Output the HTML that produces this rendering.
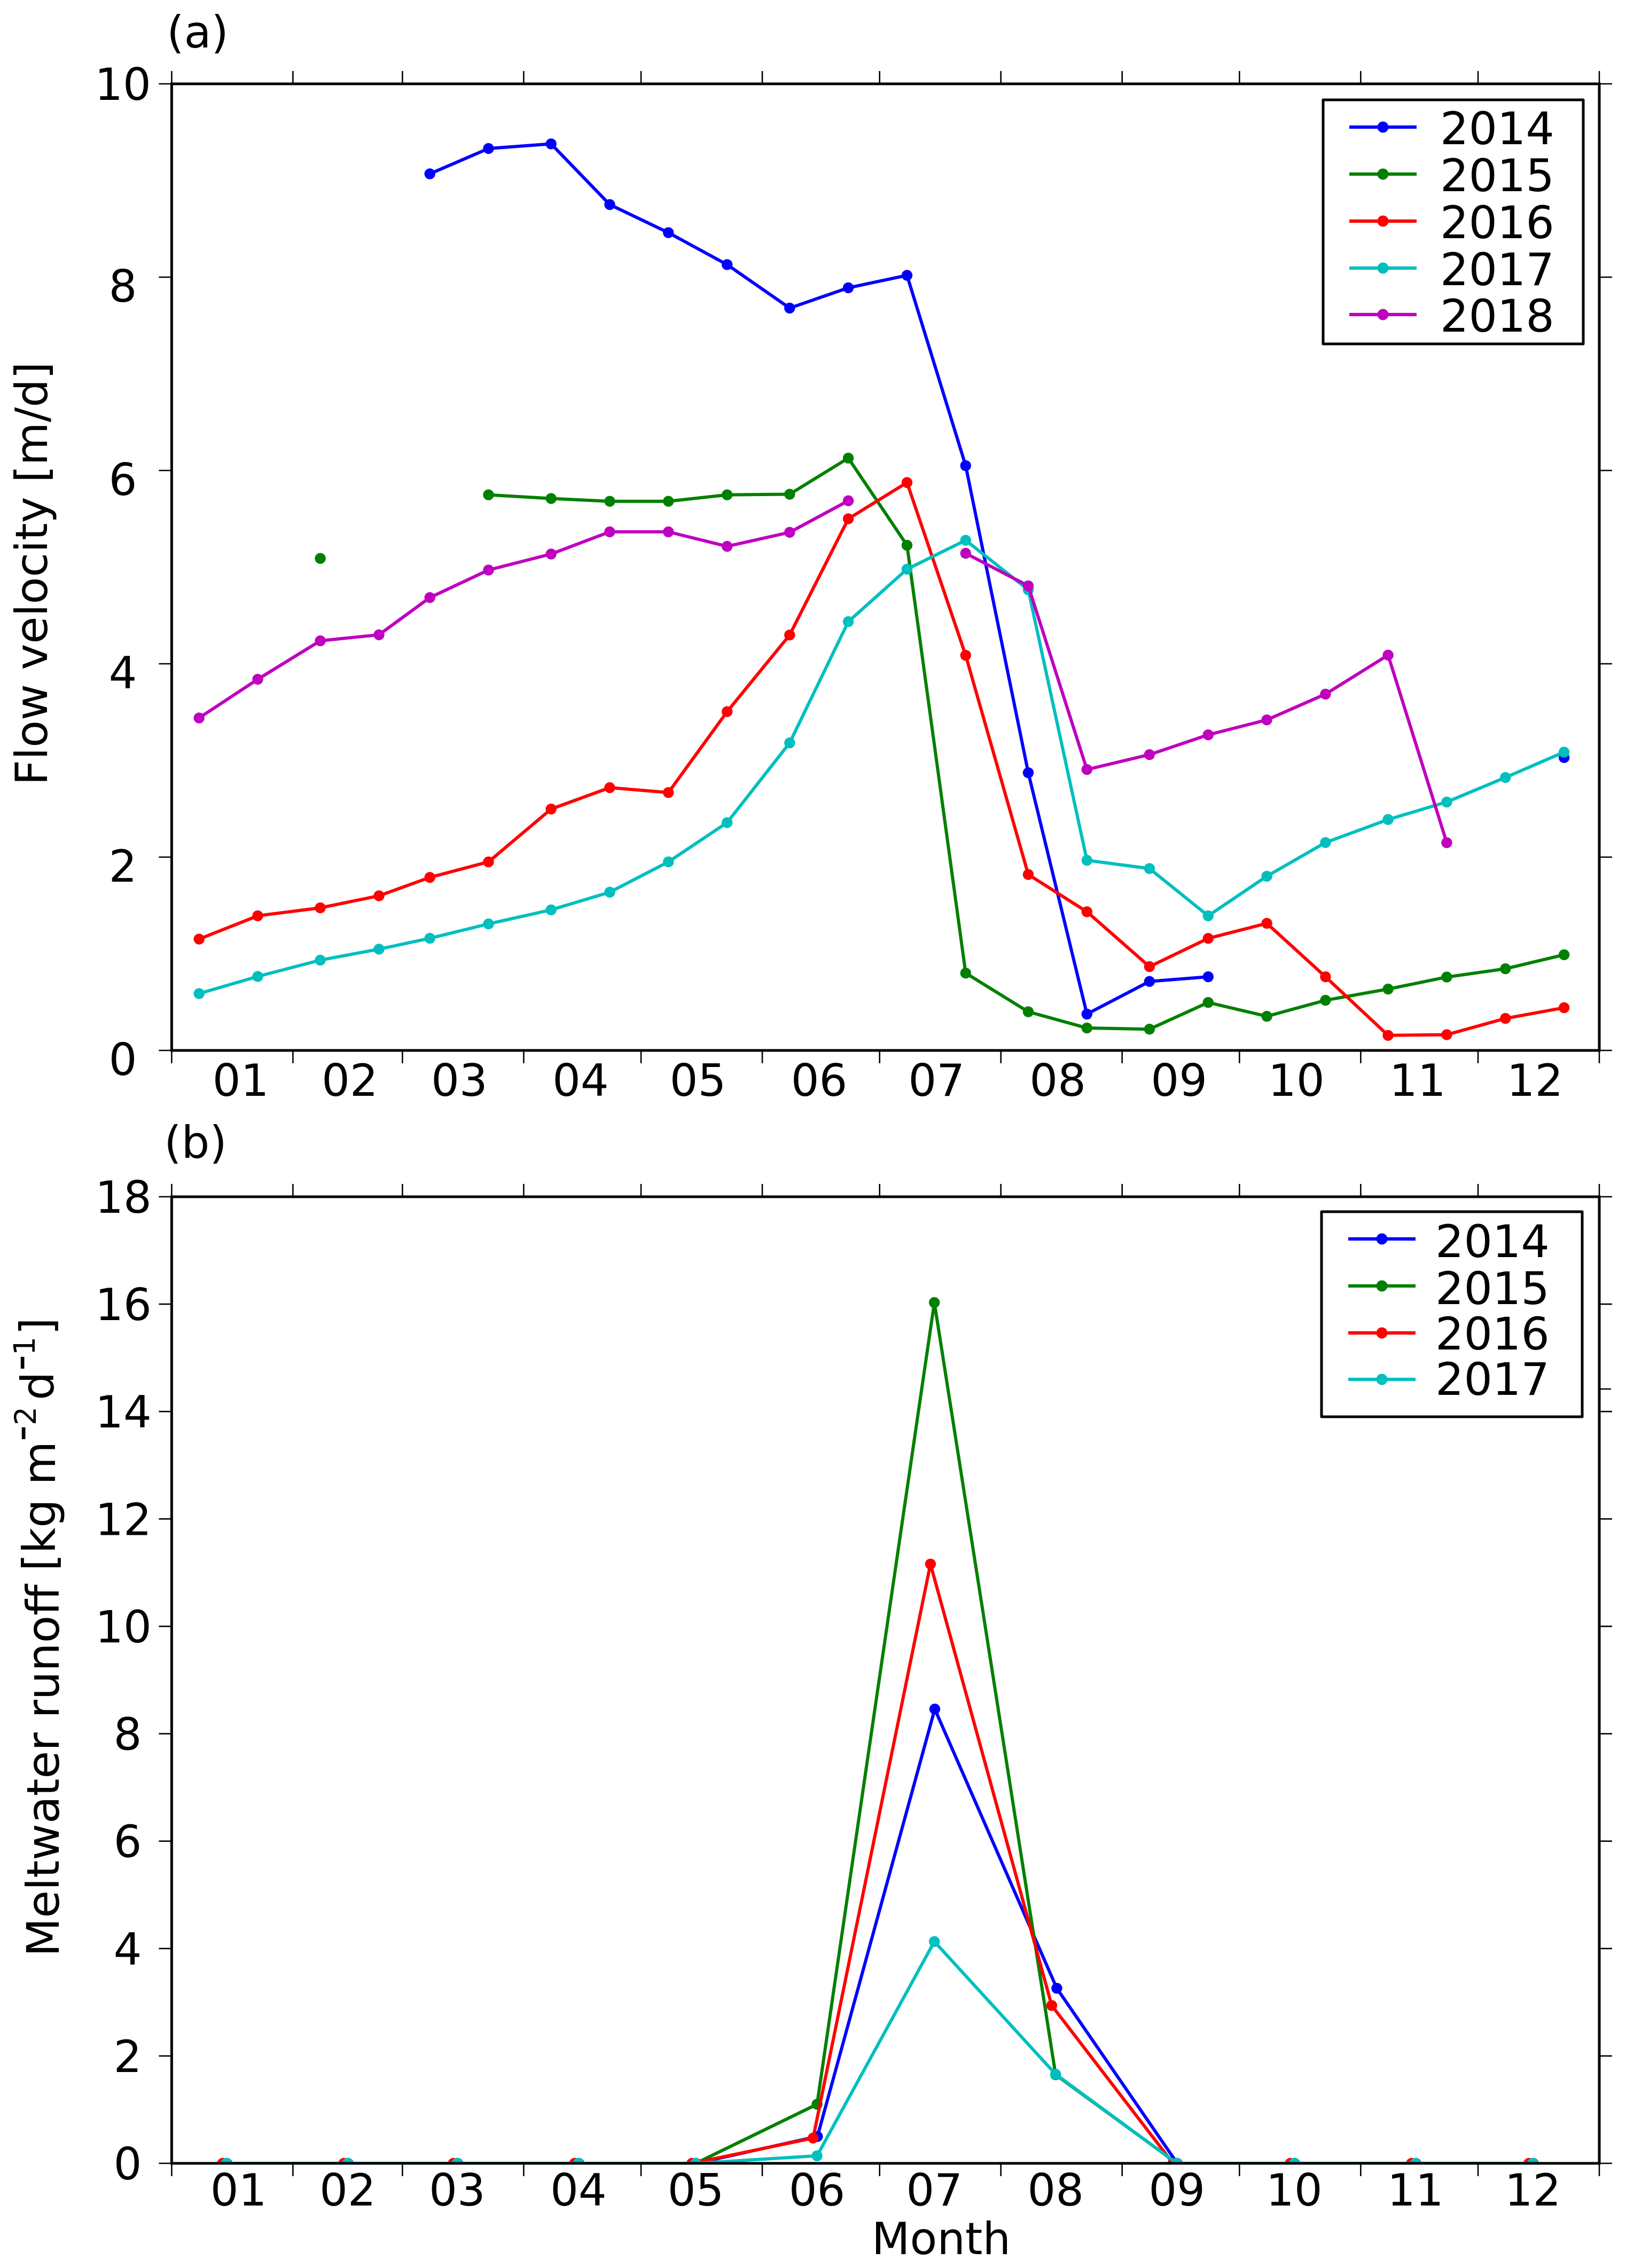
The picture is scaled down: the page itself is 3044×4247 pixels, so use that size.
<!DOCTYPE html>
<html lang="en">
<head>
<meta charset="utf-8">
<title>Flow velocity and meltwater runoff by month</title>
<style>
html,body{margin:0;padding:0;background:#fff;}
svg{display:block;}
text{font-family:"DejaVu Sans","Liberation Sans",sans-serif;fill:#000;}
</style>
</head>
<body>
<svg id="figure" xmlns="http://www.w3.org/2000/svg" width="3044" height="4247" viewBox="0 0 3044 4247">
<rect x="0" y="0" width="3044" height="4247" fill="#ffffff"/>
<defs>
<clipPath id="clip-a"><rect x="321.4" y="157" width="2672.6" height="1810"/></clipPath>
<clipPath id="clip-b"><rect x="321.4" y="2241" width="2672.6" height="1810"/></clipPath>
</defs>
<g>
<text transform="translate(110 3664) rotate(-90)" font-size="84">Meltwater runoff</text>
<text transform="translate(103 2942) rotate(-90)" font-size="84" xml:space="preserve">[kg m</text>
<text transform="translate(67 2699) rotate(-90)" font-size="84">-</text>
<text transform="translate(67 2669) rotate(-90)" font-size="55">2</text>
<text transform="translate(100 2622) rotate(-90)" font-size="84">d</text>
<text transform="translate(65 2567) rotate(-90)" font-size="84">-</text>
<text transform="translate(65 2538) rotate(-90)" font-size="55">1</text>
<text transform="translate(98 2500) rotate(-90)" font-size="84">]</text>
</g>
</svg>
<script>
// ---- Panel (a) data: flow velocity [m/d], day of year (0-based) ----
var velocityDays = [7,22,38,53,66,81,97,112,127,142,158,173,188,203,219,234,250,265,280,295,311,326,341,356];
var velocity2014 = [null,null,null,null,9.069,9.331,9.379,8.751,8.46,8.13,7.68,7.89,8.019,6.05,2.873,0.376,0.714,0.762,null,null,null,null,null,3.03];
var velocity2015 = [null,null,5.09,null,null,5.748,5.71,5.681,5.681,5.748,5.754,6.128,5.226,0.80,0.40,0.232,0.22,0.496,0.353,0.519,0.635,0.759,0.845,0.99];
var velocity2016 = [1.152,1.393,1.475,1.60,1.79,1.951,2.497,2.719,2.668,3.505,4.298,5.50,5.875,4.088,1.82,1.435,0.867,1.159,1.315,0.762,0.156,0.163,0.331,0.442];
var velocity2017 = [0.588,0.765,0.934,1.048,1.16,1.309,1.454,1.637,1.951,2.357,3.182,4.436,4.979,5.278,4.765,1.967,1.882,1.393,1.802,2.151,2.389,2.57,2.824,3.087];
var velocity2018 = [3.44,3.84,4.238,4.30,4.685,4.97,5.136,5.365,5.365,5.215,5.36,5.687,null,5.143,4.806,2.906,3.06,3.265,3.42,3.686,4.09,2.149,null,null];

// ---- Panel (b) data: meltwater runoff, day of year per series ----
var runoffDays2014 = [14.1,45.1,73.1,104.1,134.1,165.1,195.1,226.3,257.1,287.1,318.1,348.1];
var runoffDays2015 = [14,45,73,104,134,165,195,226,257,287,318,348];
var runoffDays2016 = [13,44,72,103,133,164,194,225,256,286,317,347];
var runoffDays2017 = [14,45,73,104,134,165,195,226,257,287,318,348];
var runoff2014 = [0,0,0,0,0,0.50,8.46,3.26,0,0,0,0];
var runoff2015 = [0,0,0,0,0,1.10,16.03,1.65,0,0,0,0];
var runoff2016 = [0,0,0,0,0,0.47,11.16,2.94,0,0,0,0];
var runoff2017 = [0,0,0,0,0,0.14,4.13,1.66,0,0,0,0];

// ---- Axis data ----
var monthEdges = [0,31,59,90,120,151,181,212,243,273,304,334,365];
var monthLabels = ['01','02','03','04','05','06','07','08','09','10','11','12'];
var monthLabelDays = [17.1,45,73,104,134,165,195,226,257,287,318,348];
var velocityTicks = [0,2,4,6,8,10];
var runoffTicks = [0,2,4,6,8,10,12,14,16,18];
var runoffExtraRightTicks = [14.42];
var legendYears = ['2014','2015','2016','2017','2018'];
var seriesColors = ['#0000ff','#008000','#ff0000','#00bfbf','#bf00bf'];

var NS = 'http://www.w3.org/2000/svg';
var svg = document.getElementById('figure');
var X0 = 321.4, X1 = 2994;
function xScale(day){ return X0 + day*(X1-X0)/365; }
function yA(v){ return 1967 - v*181; }
function yB(v){ return 4051 - v*(1810/18); }

function make(tag, attrs, parent){
  var el = document.createElementNS(NS, tag);
  for (var k in attrs){ el.setAttribute(k, attrs[k]); }
  (parent || svg).appendChild(el);
  return el;
}
function group(name, parent){
  var g = make('g', {}, parent);
  
  
  return g;
}
function label(str, x, y, size, anchor, parent, name){
  var t = make('text', {x:x, y:y, 'font-size':size, 'text-anchor':anchor}, parent);
  t.textContent = str;
  
  
  return t;
}
function stroke(x1,y1,x2,y2,w,parent,name){
  var l = make('line', {x1:x1,y1:y1,x2:x2,y2:y2,stroke:'#000','stroke-width':w}, parent);
  
  
  return l;
}

function drawSeries(name, days, values, yFn, color, clipId, lw, r){
  var g = group('series-' + name);
  g.setAttribute('clip-path', 'url(#' + clipId + ')');
  var pts = [];
  function flush(){
    if (pts.length > 1){
      var p = make('polyline', {points:pts.join(' '), fill:'none', stroke:color, 'stroke-width':lw, 'stroke-linejoin':'round'}, g);
      
      
    }
    pts = [];
  }
  for (var i = 0; i < values.length; i++){
    if (values[i] === null){ flush(); continue; }
    pts.push(xScale(days[i]).toFixed(1) + ',' + yFn(values[i]).toFixed(1));
  }
  flush();
  for (var j = 0; j < values.length; j++){
    if (values[j] === null) continue;
    var c = make('circle', {cx:xScale(days[j]).toFixed(1), cy:yFn(values[j]).toFixed(1), r:r, fill:color}, g);
    
    
  }
}

function drawFrame(prefix, yFn, ticks, top, bottom){
  var g = group(prefix + '-axes');
  var i, x, y;
  for (i = 0; i < monthEdges.length; i++){
    x = xScale(monthEdges[i]);
    stroke(x, top-24, x, top, 2.6, g, prefix + '-top-tick');
    stroke(x, bottom, x, bottom+24, 2.6, g, prefix + '-bottom-tick');
  }
  for (i = 0; i < ticks.length; i++){
    y = yFn(ticks[i]);
    stroke(X0-24, y, X0, y, 2.6, g, prefix + '-left-tick');
    stroke(X1, y, X1+24, y, 2.6, g, prefix + '-right-tick');
  }
  var frame = make('rect', {x:X0, y:top, width:X1-X0, height:bottom-top, fill:'none', stroke:'#000', 'stroke-width':5}, g);
  
  
  return g;
}

function drawLegend(prefix, years, box, lineX0, lineX1, markerX, textX, lineYs, baselines){
  var g = group(prefix + '-legend');
  var b = make('rect', {x:box[0], y:box[1], width:box[2]-box[0], height:box[3]-box[1], fill:'#fff', stroke:'#000', 'stroke-width':5, 'stroke-linejoin':'round'}, g);
  
  
  for (var i = 0; i < years.length; i++){
    var e = group('legend-entry-' + years[i], g);
    var l = make('line', {x1:lineX0, y1:lineYs[i], x2:lineX1, y2:lineYs[i], stroke:seriesColors[i], 'stroke-width':6.2}, e);
    
    
    var m = make('circle', {cx:markerX, cy:lineYs[i], r:10.5, fill:seriesColors[i]}, e);
    
    
    label(years[i], textX, baselines[i], 84, 'start', e, 'legend-label-' + years[i]);
  }
}

// ---- Panel (a) ----
var allVelocity = [velocity2014, velocity2015, velocity2016, velocity2017, velocity2018];
for (var s = 0; s < allVelocity.length; s++){
  drawSeries('velocity-' + legendYears[s], velocityDays, allVelocity[s], yA, seriesColors[s], 'clip-a', 6, 10.2);
}
drawFrame('panel-a', yA, velocityTicks, 157, 1967);
var gaLabels = group('panel-a-tick-labels');
for (var i = 0; i < velocityTicks.length; i++){
  var va = velocityTicks[i];
  label(String(va), 230, yA(va) + (va === 10 ? 30 : 46), 83, 'middle', gaLabels, 'y-tick-label-a');
}
for (i = 0; i < monthLabels.length; i++){
  label(monthLabels[i], xScale(monthLabelDays[i]) + 4, 2052, 83, 'middle', gaLabels, 'x-tick-label-a');
}
label('(a)', 370, 89, 83, 'middle', svg, 'panel-a-label');
var yTitleA = label('Flow velocity [m/d]', 88, 1074, 83, 'middle', svg, 'y-axis-title-a');
yTitleA.setAttribute('transform', 'rotate(-90 88 1074)');
drawLegend('panel-a', legendYears, [2477,187,2964,644], 2526, 2652, 2589, 2696, [238,326,414,502,589], [270,358,446,534,621]);

// ---- Panel (b) ----
var allRunoffDays = [runoffDays2014, runoffDays2015, runoffDays2016, runoffDays2017];
var allRunoff = [runoff2014, runoff2015, runoff2016, runoff2017];
for (s = 0; s < allRunoff.length; s++){
  drawSeries('runoff-' + legendYears[s], allRunoffDays[s], allRunoff[s], yB, seriesColors[s], 'clip-b', 6, 10.2);
}
var gbFrame = drawFrame('panel-b', yB, runoffTicks, 2241, 4051);
for (i = 0; i < runoffExtraRightTicks.length; i++){
  stroke(X1, yB(runoffExtraRightTicks[i]), X1+22, yB(runoffExtraRightTicks[i]), 2.6, gbFrame, 'panel-b-extra-right-tick');
}
var gbLabels = group('panel-b-tick-labels');
for (i = 0; i < runoffTicks.length; i++){
  var vb = runoffTicks[i];
  label(String(vb), vb >= 10 ? 231 : 239, yB(vb) + 30, 83, 'middle', gbLabels, 'y-tick-label-b');
}
for (i = 0; i < monthLabels.length; i++){
  label(monthLabels[i], xScale(monthLabelDays[i]), 4130, 83, 'middle', gbLabels, 'x-tick-label-b');
}
label('(b)', 366, 2168, 83, 'middle', svg, 'panel-b-label');
label('Month', 1762, 4221, 83, 'middle', svg, 'x-axis-title');
drawLegend('panel-b', legendYears.slice(0,4), [2474,2269,2962,2653], 2524, 2650, 2587, 2687, [2320,2408,2496,2583], [2354,2442,2527,2612]);
</script>
</body>
</html>
